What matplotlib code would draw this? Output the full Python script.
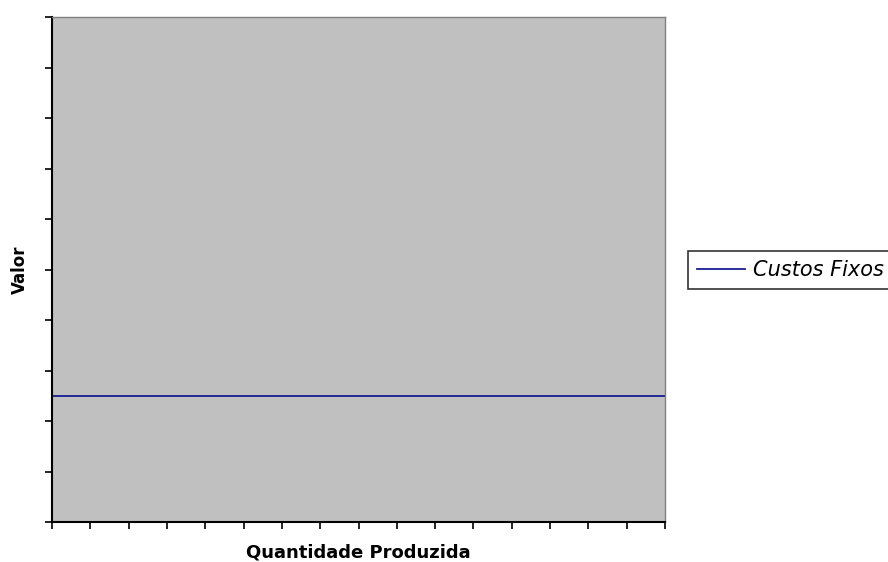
import matplotlib.pyplot as plt

# fixed costs stay flat across the produced quantity
quantidade = [0, 16]
custos_fixos = [2.5, 2.5]
serie_label = "Custos Fixos"

fig = plt.figure(figsize=(8.88, 5.62), dpi=100)
ax = fig.add_axes([52 / 888, 1 - 522 / 562, (665 - 52) / 888, (522 - 17) / 562])
ax.set_facecolor("#c0c0c0")

ax.plot(quantidade, custos_fixos, color="#1c1c94", linewidth=1.3, label=serie_label)

ax.set_xlim(0, 16)
ax.set_ylim(0, 10)
ax.set_xticks(range(0, 17))
ax.set_yticks(range(0, 11))
ax.set_xticklabels([])
ax.set_yticklabels([])
ax.tick_params(axis="both", direction="out", length=5, width=1.2, color="black")

for side in ["left", "bottom"]:
    ax.spines[side].set_color("black")
    ax.spines[side].set_linewidth(1.5)
for side in ["top", "right"]:
    ax.spines[side].set_color("#808080")
    ax.spines[side].set_linewidth(1.0)

ax.set_xlabel("Quantidade Produzida", fontsize=13, fontweight="bold", labelpad=7)
ax.set_ylabel("Valor", fontsize=12, fontweight="bold", labelpad=8)

leg = fig.legend(loc="center left", bbox_to_anchor=(688 / 888, 1 - 270 / 562),
                 frameon=True, fancybox=False, handlelength=2.3, handletextpad=0.35,
                 borderpad=0.45, borderaxespad=0,
                 prop={"size": 15, "style": "italic"})
leg.get_frame().set_edgecolor("black")
leg.get_frame().set_linewidth(1.2)

fig.savefig("out.png", dpi=100)
